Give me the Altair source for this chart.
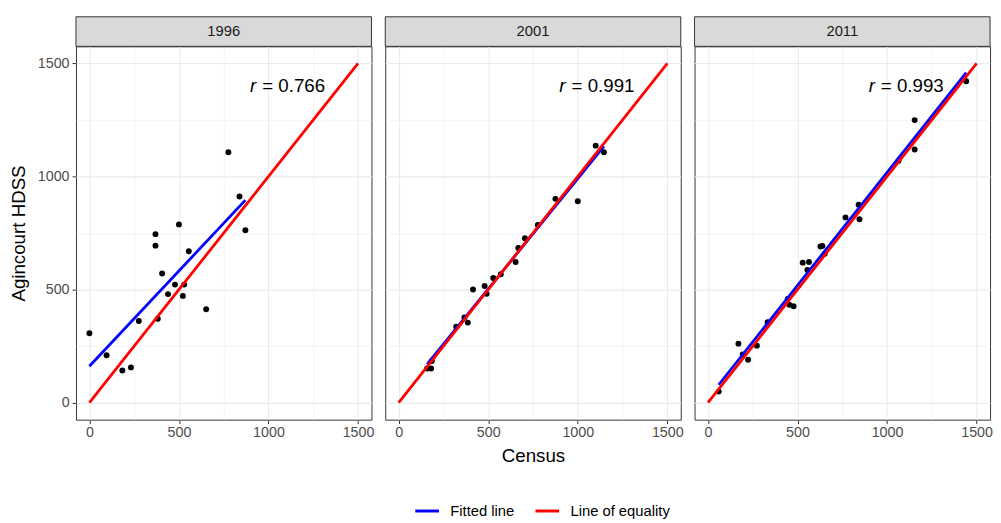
import altair as alt
import pandas as pd

years = ["1996", "2001", "2011"]

census_1996 = [0, 96, 184, 232, 276, 382, 369, 369, 406, 439, 478, 500, 529, 522, 555, 652, 776, 838, 871]
hdss_1996 = [307, 210, 142, 156, 361, 371, 745, 694, 571, 480, 522, 788, 522, 472, 669, 413, 1107, 911, 762]

census_2001 = [159, 181, 185, 321, 367, 386, 415, 480, 491, 528, 570, 653, 668, 705, 777, 875, 1000, 1100, 1146]
hdss_2001 = [151, 151, 184, 336, 377, 354, 500, 516, 481, 551, 568, 622, 684, 727, 785, 901, 890, 1136, 1107]

census_2011 = [60, 170, 194, 224, 273, 333, 445, 454, 478, 529, 564, 555, 628, 639, 652, 768, 841, 846, 1064, 1154, 1154, 1442]
hdss_2011 = [49, 261, 213, 190, 252, 356, 458, 433, 426, 619, 622, 587, 690, 693, 658, 819, 875, 811, 1069, 1249, 1119, 1421]

r_labels = ["0.766", "0.991", "0.993"]
equality_census = [0, 1500]
equality_hdss = [0, 1500]
line_types = ["Fitted line", "Line of equality"]
line_colors = ["#0000FF", "#FF0000"]
tick_values = [0, 250, 500, 750, 1000, 1250, 1500]

FONT = "Liberation Sans"
W, H, STRIP_H = 300, 379, 30

frames = []
for yr, cx, hy in zip(years, [census_1996, census_2001, census_2011], [hdss_1996, hdss_2001, hdss_2011]):
    frames.append(pd.DataFrame({"year": yr, "census": cx, "hdss": hy}))
points = pd.DataFrame(pd.concat(frames, ignore_index=True))
equality = pd.DataFrame({"census": equality_census, "hdss": equality_hdss, "type": line_types[1]})
rdf = pd.DataFrame({"year": years, "r": r_labels})

major = "datum.value % 500 === 0"
grid_width = {"condition": {"test": major, "value": 1.1}, "value": 0.55}
tick_opacity = {"condition": {"test": major, "value": 1}, "value": 0}

common_axis = dict(
    values=tick_values,
    format="d",
    gridColor="#EBEBEB",
    gridWidth=grid_width,
    domain=False,
    labelFlush=False,
    labelOverlap=False,
)


def x_axis(title):
    kw = dict(common_axis)
    kw.update(
        labelExpr=f"{major} ? datum.label : ''",
        tickOpacity=tick_opacity,
        tickColor="#333333",
        tickSize=4,
        labelFontSize=14.5,
        labelColor="#4D4D4D",
        labelPadding=2,
        titleFontSize=19,
        titleFontWeight="normal",
        titleColor="black",
        titlePadding=8,
    )
    kw["title"] = title if title else None
    return alt.Axis(**kw)


def y_axis(show):
    kw = dict(common_axis)
    if show:
        kw.update(
            labelExpr=f"{major} ? datum.label : ''",
            tickOpacity=tick_opacity,
            tickColor="#333333",
            tickSize=4,
            labelFontSize=14.5,
            labelColor="#4D4D4D",
            labelPadding=3,
            title="Agincourt HDSS",
            titleFontSize=19,
            titleFontWeight="normal",
            titleColor="black",
            titlePadding=9,
        )
    else:
        kw.update(labels=False, ticks=False, title=None)
    return alt.Axis(**kw)


xs = alt.Scale(domain=[-75, 1575], nice=False, zero=False)
ys = alt.Scale(domain=[-75, 1575], nice=False, zero=False)
color_scale = alt.Scale(domain=line_types, range=line_colors)
legend = alt.Legend(title=None, orient="none", direction="horizontal", legendX=343, legendY=458)

panels = []
for i, yr in enumerate(years):
    ydf = pd.DataFrame({"year": [yr]})
    strip_box = (
        alt.Chart(ydf)
        .mark_rect(fill="#D9D9D9", stroke="#333333", strokeWidth=1)
        .encode(x=alt.value(0), x2=alt.value(W), y=alt.value(-STRIP_H), y2=alt.value(0))
    )
    strip_text = (
        alt.Chart(ydf)
        .mark_text(fontSize=15, color="#1A1A1A", font=FONT, baseline="middle")
        .encode(text="year:N", x=alt.value(W / 2), y=alt.value(-STRIP_H / 2))
    )
    base = alt.Chart(points).transform_filter(alt.datum.year == yr)
    X = alt.X("census:Q", scale=xs, axis=x_axis("Census" if i == 1 else None))
    Y = alt.Y("hdss:Q", scale=ys, axis=y_axis(i == 0))
    pts = base.mark_circle(size=36, color="black", opacity=1).encode(x=X, y=Y)
    fit = (
        base.transform_regression("census", "hdss")
        .transform_calculate(type=f"'{line_types[0]}'")
        .mark_line(strokeWidth=2.8)
        .encode(x="census:Q", y="hdss:Q", color=alt.Color("type:N", scale=color_scale, legend=legend))
    )
    eq = (
        alt.Chart(equality)
        .mark_line(strokeWidth=2.8)
        .encode(x="census:Q", y="hdss:Q", color=alt.Color("type:N", scale=color_scale, legend=legend))
    )
    rsym = (
        alt.Chart(rdf)
        .transform_filter(alt.datum.year == yr)
        .mark_text(text="r", fontStyle="italic", align="right", baseline="middle", fontSize=19, color="black")
        .encode(x=alt.datum(932), y=alt.datum(1400))
    )
    rval = (
        alt.Chart(rdf)
        .transform_filter(alt.datum.year == yr)
        .transform_calculate(label="'= ' + datum.r")
        .mark_text(align="left", baseline="middle", dx=6, fontSize=19, color="black")
        .encode(x=alt.datum(932), y=alt.datum(1400), text="label:N")
    )
    plot = alt.layer(pts, fit, eq, rsym, rval, strip_box, strip_text).properties(width=W, height=H)
    panels.append(plot)

chart = (
    alt.hconcat(*panels, spacing=10)
    .properties(padding={"left": 1, "top": 4, "right": 0, "bottom": 0})
    .configure(font=FONT)
    .configure_view(stroke="#333333", strokeWidth=1)
    .configure_legend(
        symbolType="stroke",
        symbolStrokeWidth=3,
        symbolSize=576,
        labelFontSize=15,
        labelColor="black",
        labelFont=FONT,
        columnPadding=14,
        labelOffset=10,
    )
)

chart.save("out.html", embed_options={"renderer": "svg", "actions": False})
